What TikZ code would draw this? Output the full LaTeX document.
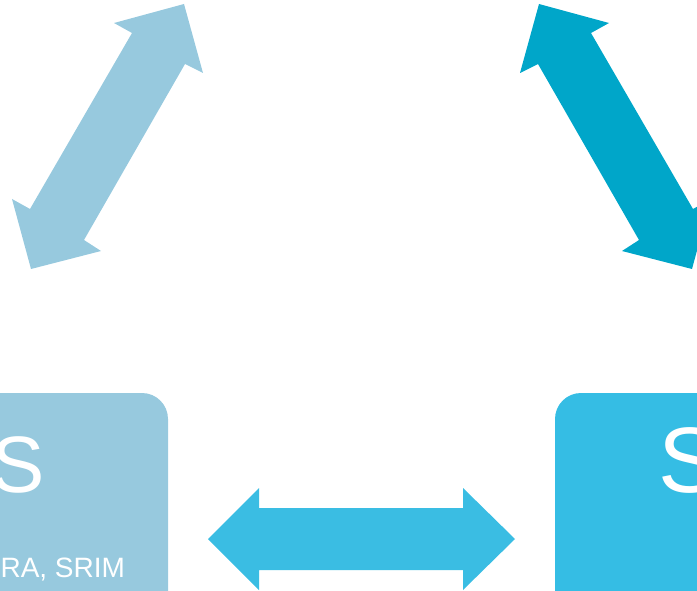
\documentclass[tikz,border=0pt]{standalone}
\usepackage{fontspec}
\setmainfont{Liberation Sans}
\definecolor{lightb}{HTML}{97C9DE}
\definecolor{darkb}{HTML}{00A6C9}
\definecolor{midb}{HTML}{3ABDE3}
\definecolor{boxb}{HTML}{35BDE4}
\begin{document}
\begin{tikzpicture}[x=1pt,y=-1pt,
  txt/.style={text=white,inner sep=0pt,outer sep=0pt}]
\useasboundingbox (0,0) rectangle (697,591);
\clip (0,0) rectangle (697,591);
% boxes
\fill[lightb,rounded corners=26pt] (-60,393) rectangle (168,660);
\fill[boxb,rounded corners=26pt] (555,393) rectangle (800,660);
% diagonal arrows
\fill[lightb] (184,4) -- (203,73) -- (185,64) -- (84,240) -- (101,251) -- (31,269)
  -- (12,199) -- (30,209) -- (132,33) -- (114,23) -- cycle;
\fill[darkb] (539,4) -- (520,73) -- (538,64) -- (639,240) -- (622,251) -- (692,269)
  -- (711,199) -- (693,209) -- (591,33) -- (609,23) -- cycle;
% horizontal arrow
\fill[midb] (208,539) -- (259,488) -- (259,508) -- (463,508) -- (463,488) -- (515,539)
  -- (463,590) -- (463,570) -- (259,570) -- (259,590) -- cycle;
% texts
\node[txt,anchor=base east,font=\fontsize{80}{80}\selectfont] (ls) at (45,492) {S};
\node[txt,anchor=base east,font=\fontsize{28}{28}\selectfont] (lt) at (125,577) {RA, SRIM};
\node[txt,anchor=base west,font=\fontsize{93}{93}\selectfont] (rs) at (658.5,492) {S};
\end{tikzpicture}
\end{document}
